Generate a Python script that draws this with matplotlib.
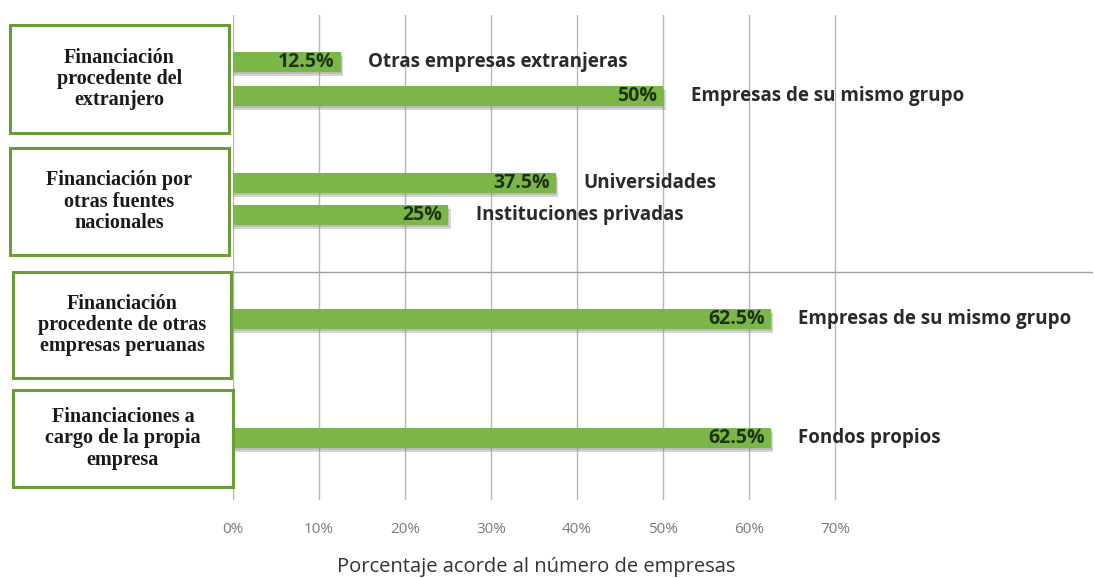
import matplotlib
matplotlib.use("Agg")
import matplotlib.pyplot as plt
from matplotlib.patches import Rectangle

# ---- data ----
groups = [
    "Financiación\nprocedente del\nextranjero",
    "Financiación por\notras fuentes\nnacionales",
    "Financiación\nprocedente de otras\nempresas peruanas",
    "Financiaciones a\ncargo de la propia\nempresa",
]
categories = [
    "Otras empresas extranjeras",
    "Empresas de su mismo grupo",
    "Universidades",
    "Instituciones privadas",
    "Empresas de su mismo grupo",
    "Fondos propios",
]
values = [12.5, 50, 37.5, 25, 62.5, 62.5]
value_labels = ["12.5%", "50%", "37.5%", "25%", "62.5%", "62.5%"]
xticks = [0, 10, 20, 30, 40, 50, 60, 70]
xtick_labels = ["0%", "10%", "20%", "30%", "40%", "50%", "60%", "70%"]
xlabel = "Porcentaje acorde al número de empresas"

# ---- layout (pixel-like units, figure is 1094x578) ----
W, H = 1094, 578
bar_pos = [62, 96, 183, 215, 319, 438]
bar_h = 20
sep_y = 272
box_rects = [(10, 25, 219, 108), (10, 148, 219, 107), (13, 272, 218, 106), (13, 390, 220, 97)]
ax_left, ax_right, ax_top, ax_bot = 233, 1093, 15, 500

green = "#7ab648"
edge_green = "#6c9b3c"

fig = plt.figure(figsize=(W / 100, H / 100), dpi=100)
fig.patch.set_facecolor("white")
ax = fig.add_axes([ax_left / W, 1 - ax_bot / H, (ax_right - ax_left) / W, (ax_bot - ax_top) / H])
ax.set_xlim(0, (ax_right - ax_left) / 8.6)
ax.set_ylim(ax_bot, ax_top)
for s in ax.spines.values():
    s.set_visible(False)

# gridlines
for t in xticks:
    ax.axvline(t, color="#b8b8b8", lw=1, zorder=0)
ax.axhline(sep_y, color="#a0a0a0", lw=1, zorder=0)

# shadows
ax.barh([p + 4 for p in bar_pos], [v + 0.3 for v in values], height=bar_h,
        color="#8a8a8a", alpha=0.35, zorder=1)
ax.barh([p + 2 for p in bar_pos], [v + 0.15 for v in values], height=bar_h,
        color="#8a8a8a", alpha=0.35, zorder=1)
bars = ax.barh(bar_pos, values, height=bar_h, color=green, zorder=2)

for p, v, lab, cat in zip(bar_pos, values, value_labels, categories):
    ax.annotate(lab, (v, p), xytext=(-4, 0), textcoords="offset points",
                ha="right", va="center", fontsize=14, fontweight="bold",
                color="#1f3310", family="Open Sans", zorder=3)
    ax.annotate(cat, (v, p), xytext=(20, 0), textcoords="offset points",
                ha="left", va="center", fontsize=13.5, fontweight="bold",
                color="#2a2a2a", family="Open Sans", zorder=3)

ax.set_xticks(xticks)
ax.set_xticklabels(xtick_labels, family="Open Sans", fontsize=11, color="#7a7a7a")
ax.tick_params(axis="x", length=0, pad=16)
ax.set_yticks([])

fig.text(536 / W, 1 - 567 / H, xlabel, ha="center", va="center",
         fontsize=14.5, color="#333333", family="Open Sans")

# left boxes
for (x, y, w, h), g in zip(box_rects, groups):
    fig.patches.append(Rectangle((x / W, 1 - (y + h) / H), w / W, h / H,
                                 transform=fig.transFigure, fill=False,
                                 edgecolor=edge_green, lw=2.2))
    fig.text((x + w / 2) / W, 1 - (y + h / 2) / H, g, ha="center", va="center",
             fontsize=14.5, fontweight="bold", family="Liberation Serif",
             color="#1a1a1a", linespacing=1.08)

fig.savefig("out.png", dpi=100)
